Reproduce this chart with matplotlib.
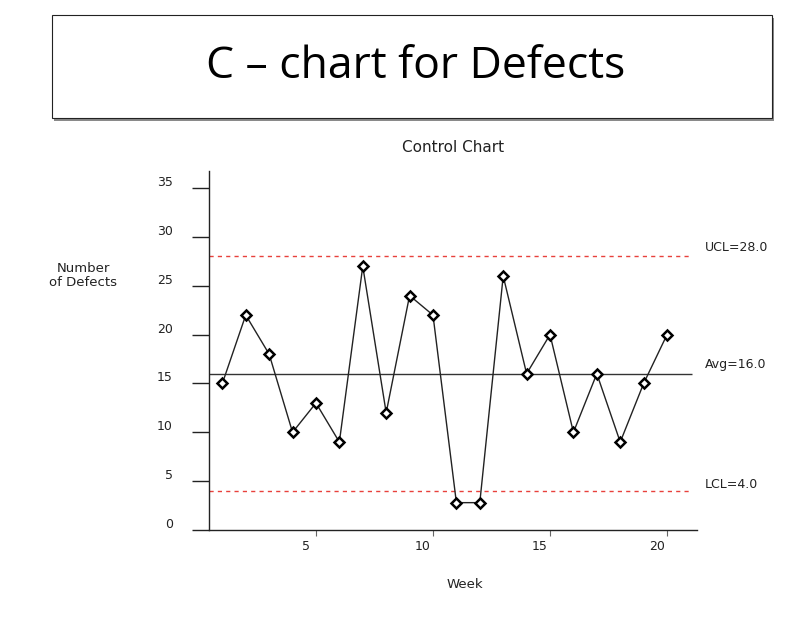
import matplotlib.pyplot as plt
import matplotlib.transforms as mtransforms
from matplotlib.patches import Rectangle

weeks = list(range(1, 21))
defects = [15, 22, 18, 10, 13, 9, 27, 12, 24, 22, 2.8, 2.8, 26, 16, 20, 10, 16, 9, 15, 20]
ucl = 28.0
avg = 16.0
lcl = 4.0
y_ticks = [0, 5, 10, 15, 20, 25, 30, 35]
x_ticks = [5, 10, 15, 20]


def main() -> None:
    fig = plt.figure(figsize=(8.08, 6.24), dpi=100)

    # header box with a soft shadow
    fig.patches.append(Rectangle((54 / 808, 1 - 121 / 624), 720 / 808, 103 / 624,
                                 transform=fig.transFigure, facecolor="#8a8a8a",
                                 edgecolor="none", zorder=0))
    fig.patches.append(Rectangle((52 / 808, 1 - 118 / 624), 720 / 808, 103 / 624,
                                 transform=fig.transFigure, facecolor="white",
                                 edgecolor="#222222", linewidth=0.8, zorder=1))
    fig.text(0.515, 1 - 67 / 624, "C \u2013 chart for Defects", ha="center", va="center",
             fontsize=32, family="Open Sans", color="black")

    ax = fig.add_axes([209 / 808, 1 - 530 / 624, 488 / 808, 359 / 624])
    ax.plot(weeks, defects, color="#222222", linewidth=1.0, marker="D", markersize=5,
            markerfacecolor="white", markeredgecolor="black", markeredgewidth=1.8, zorder=3)

    xmax_line = 21.05
    ax.hlines(ucl, 0.43, xmax_line, colors="#e8413c", linestyles=(0, (3, 3)), linewidth=1.0)
    ax.hlines(avg, 0.43, xmax_line, colors="#333333", linewidth=1.0)
    ax.hlines(lcl, 0.43, xmax_line, colors="#e8413c", linestyles=(0, (3, 3)), linewidth=1.0)

    label_x = 21.6
    ax.text(label_x, ucl + 0.9, f"UCL={ucl:.1f}", fontsize=9, color="#222222", va="center", clip_on=False)
    ax.text(label_x, avg + 0.9, f"Avg={avg:.1f}", fontsize=9, color="#222222", va="center", clip_on=False)
    ax.text(label_x, lcl + 0.7, f"LCL={lcl:.1f}", fontsize=9, color="#222222", va="center", clip_on=False)

    ax.set_xlim(0.43, 21.28)
    ax.set_ylim(0, 36.75)
    ax.set_xticks(x_ticks)
    ax.set_yticks(y_ticks)
    ax.spines["top"].set_visible(False)
    ax.spines["right"].set_visible(False)
    for side in ("left", "bottom"):
        ax.spines[side].set_linewidth(1.0)
        ax.spines[side].set_color("#222222")
    ax.tick_params(axis="y", direction="out", length=12, width=1.0, pad=14,
                   labelsize=9, labelcolor="#222222", color="#222222")
    ax.tick_params(axis="x", direction="out", length=4, width=0.8, pad=3,
                   labelsize=9, labelcolor="#222222", color="#666666")

    # labels sit slightly off their ticks, as in the original
    for lab in ax.get_yticklabels():
        lab.set_transform(lab.get_transform() + mtransforms.ScaledTranslation(0, 7 / 100, fig.dpi_scale_trans))
    for lab in ax.get_xticklabels():
        lab.set_transform(lab.get_transform() + mtransforms.ScaledTranslation(-10 / 100, 0, fig.dpi_scale_trans))

    ax.set_title("Control Chart", fontsize=11, color="#222222", pad=14)
    fig.text(83 / 808, 1 - 275 / 624, "Number\nof Defects", ha="center", va="center",
             fontsize=9.5, color="#222222", linespacing=1.1)
    fig.text(465 / 808, 1 - 585 / 624, "Week", ha="center", va="center",
             fontsize=9.5, color="#222222")

    fig.savefig("out.png", dpi=100)
    plt.close(fig)


if __name__ == "__main__":
    main()
